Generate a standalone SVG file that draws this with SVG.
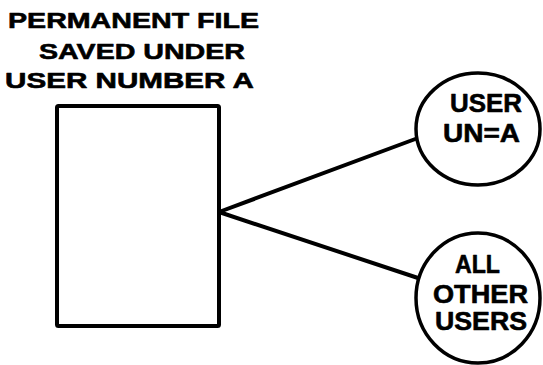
<svg xmlns="http://www.w3.org/2000/svg" width="543" height="365" viewBox="0 0 543 365">
  <style>
    .lbl { font-family: "Liberation Sans", Arial, sans-serif; font-weight: bold; fill: #000; stroke: #000; stroke-width: 0.6; stroke-linejoin: round; }
    .title { font-size: 22px; }
    .inner { font-size: 26px; }
    .shape { fill: #fff; stroke: #000; }
    .link { stroke: #000; stroke-width: 4; stroke-linecap: round; fill: none; }
  </style>
  <rect width="543" height="365" fill="#fff"/>

  <g id="connectors">
    <line class="link" x1="219" y1="212" x2="418" y2="138"/>
    <line class="link" x1="219" y1="212" x2="418" y2="278"/>
  </g>

  <g id="file">
    <text class="lbl title" x="8" y="28" textLength="251" lengthAdjust="spacingAndGlyphs">PERMANENT FILE</text>
    <text class="lbl title" x="39" y="59" textLength="206" lengthAdjust="spacingAndGlyphs">SAVED UNDER</text>
    <text class="lbl title" x="5" y="88" textLength="249" lengthAdjust="spacingAndGlyphs">USER NUMBER A</text>
    <rect class="shape" x="57" y="106" width="162" height="220" rx="1.5" stroke-width="4"/>
  </g>

  <g id="owner">
    <ellipse class="shape" cx="478" cy="129" rx="62" ry="56" stroke-width="3.5"/>
    <text class="lbl inner" x="450" y="112" textLength="72" lengthAdjust="spacingAndGlyphs">USER</text>
    <text class="lbl inner" x="443" y="142" textLength="77" lengthAdjust="spacingAndGlyphs">UN=A</text>
  </g>

  <g id="others">
    <ellipse class="shape" cx="478" cy="298" rx="62" ry="65" stroke-width="3.5"/>
    <text class="lbl inner" x="455" y="273" textLength="45" lengthAdjust="spacingAndGlyphs">ALL</text>
    <text class="lbl inner" x="433" y="303" textLength="95" lengthAdjust="spacingAndGlyphs">OTHER</text>
    <text class="lbl inner" x="435" y="330" textLength="92" lengthAdjust="spacingAndGlyphs">USERS</text>
  </g>
</svg>
